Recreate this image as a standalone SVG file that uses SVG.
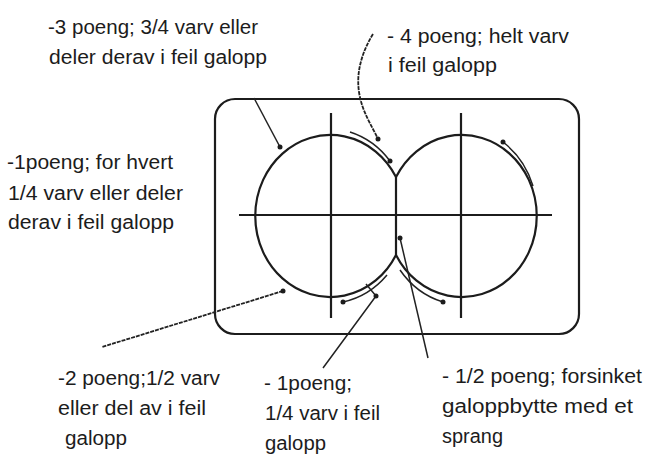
<svg xmlns="http://www.w3.org/2000/svg" width="649" height="455" viewBox="0 0 649 455">
<style>
.t{font-family:"Liberation Sans",Arial,sans-serif;font-size:20px;fill:#1c1c1c}
.s{fill:none;stroke:#1c1c1c;stroke-width:2.2}
.l{fill:none;stroke:#222;stroke-width:1.5}
.d{fill:none;stroke:#222;stroke-width:1.8;stroke-dasharray:4 1}
.dot{fill:#1c1c1c}
</style>
<rect width="649" height="455" fill="#fff"/>
<g id="arena">
<rect class="s" x="215" y="99" width="364" height="235" rx="20"/>
<path class="s" d="M396,177 A75,81 0 1 0 396,255"/>
<path class="s" d="M396,177 A75,81 0 1 1 396,255"/>
<path class="s" d="M331,113 V318 M461,113 V318 M239,215 H552 M396,177 V255"/>
</g>
<g id="direction-marks">
<path class="l" d="M350,132 A81,87 0 0 1 390,161"/>
<circle class="dot" cx="390" cy="161" r="2.5"/>
<path class="l" d="M503,142 A81,87 0 0 1 533,186"/>
<circle class="dot" cx="503" cy="142" r="2.5"/>
<path class="l" d="M387,275 A81,87 0 0 1 343,302"/>
<circle class="dot" cx="343" cy="302" r="2.5"/>
<path class="l" d="M400,270 A81,87 0 0 0 443,302"/>
<circle class="dot" cx="443" cy="302" r="2.5"/>
</g>
<g id="connectors">
<path class="l" d="M254,98 L280,147"/>
<circle class="dot" cx="280" cy="147" r="2.5"/>
<path class="d" d="M373,34 C362,52 356,72 359,92 C362,112 372,126 378,139"/>
<circle class="dot" cx="378" cy="139" r="2.5"/>
<path class="d" d="M283,291 L102,347"/>
<circle class="dot" cx="283" cy="291" r="2.5"/>
<path class="l" d="M323,368 L376,296 M366,284 L376,296"/>
<circle class="dot" cx="376" cy="296" r="2.5"/>
<path class="l" d="M400,238 L428,358"/>
<circle class="dot" cx="400" cy="238" r="2.5"/>
</g>
<g id="label-3">
<text class="t" x="48" y="34" textLength="210" lengthAdjust="spacingAndGlyphs">-3 poeng; 3/4 varv eller</text>
<text class="t" x="49" y="64" textLength="218" lengthAdjust="spacingAndGlyphs">deler derav i feil galopp</text>
</g>
<g id="label-4">
<text class="t" x="387" y="43" textLength="182" lengthAdjust="spacingAndGlyphs">- 4 poeng; helt varv</text>
<text class="t" x="388" y="72" textLength="109" lengthAdjust="spacingAndGlyphs">i feil galopp</text>
</g>
<g id="label-1-each">
<text class="t" x="7" y="169" textLength="166" lengthAdjust="spacingAndGlyphs">-1poeng; for hvert</text>
<text class="t" x="8" y="200" textLength="175" lengthAdjust="spacingAndGlyphs">1/4 varv eller deler</text>
<text class="t" x="8" y="229" textLength="166" lengthAdjust="spacingAndGlyphs">derav i feil galopp</text>
</g>
<g id="label-2">
<text class="t" x="58" y="385" textLength="162" lengthAdjust="spacingAndGlyphs">-2 poeng;1/2 varv</text>
<text class="t" x="58" y="415" textLength="148" lengthAdjust="spacingAndGlyphs">eller del av i feil</text>
<text class="t" x="65" y="445" textLength="62" lengthAdjust="spacingAndGlyphs">galopp</text>
</g>
<g id="label-1">
<text class="t" x="264" y="390" textLength="88" lengthAdjust="spacingAndGlyphs">- 1poeng;</text>
<text class="t" x="265" y="420" textLength="115" lengthAdjust="spacingAndGlyphs">1/4 varv i feil</text>
<text class="t" x="265" y="450" textLength="61" lengthAdjust="spacingAndGlyphs">galopp</text>
</g>
<g id="label-half">
<text class="t" x="442" y="383" textLength="200" lengthAdjust="spacingAndGlyphs">- 1/2 poeng; forsinket</text>
<text class="t" x="442" y="413" textLength="191" lengthAdjust="spacingAndGlyphs">galoppbytte med et</text>
<text class="t" x="442" y="443" textLength="61" lengthAdjust="spacingAndGlyphs">sprang</text>
</g>
</svg>
